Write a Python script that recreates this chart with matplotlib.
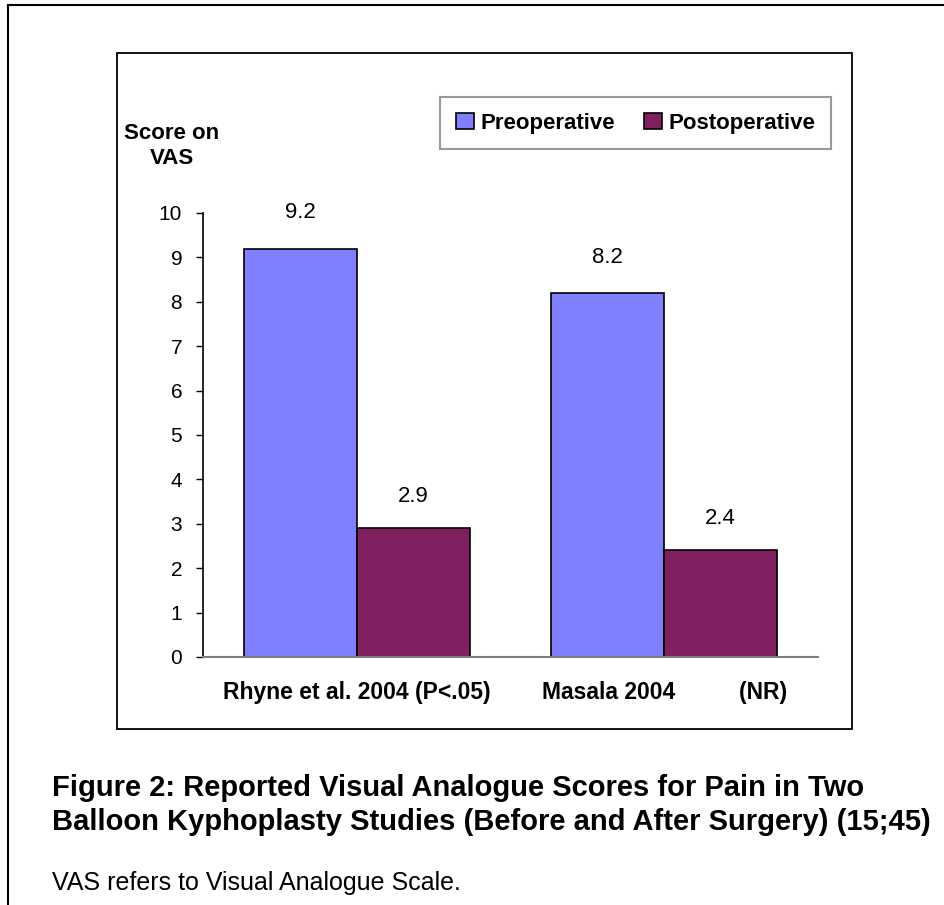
import matplotlib
matplotlib.use('Agg')
import matplotlib.pyplot as plt
from matplotlib.lines import Line2D
from matplotlib.patches import Rectangle

plt.rcParams['font.family'] = ['Liberation Sans', 'DejaVu Sans']

# data
studies = ['Rhyne et al. 2004 (P<.05)', 'Masala 2004          (NR)']
series = ['Preoperative', 'Postoperative']
pre_scores = [9.2, 8.2]
post_scores = [2.9, 2.4]
colors = ['#8080FF', '#802060']

W, H = 945, 905
fig = plt.figure(figsize=(W / 100, H / 100), dpi=100)


def fx(px):
    return px / W


def fy(py):
    return 1 - py / H


# outer frame (left + top only visible)
fig.add_artist(Line2D([fx(8), fx(8)], [fy(5), 0], transform=fig.transFigure, color='black', lw=1.5))
fig.add_artist(Line2D([fx(8), 1], [fy(5), fy(5)], transform=fig.transFigure, color='black', lw=1.5))

# chart box
fig.add_artist(Rectangle((fx(117), fy(729)), fx(852) - fx(117), fy(53) - fy(729),
                         transform=fig.transFigure, fill=False, edgecolor='black', lw=1.3))

ax = fig.add_axes([fx(203), fy(657), fx(818) - fx(203), fy(213) - fy(657)])
x = [0, 1]
w = 0.3675
ax.bar([i - w / 2 for i in x], pre_scores, w, color=colors[0], edgecolor='black', lw=1.2, label=series[0])
ax.bar([i + w / 2 for i in x], post_scores, w, color=colors[1], edgecolor='black', lw=1.2, label=series[1])

for i in x:
    ax.text(i - w / 2, pre_scores[i] + 0.8, str(pre_scores[i]), ha='center', va='center', fontsize=16)
    ax.text(i + w / 2, post_scores[i] + 0.72, str(post_scores[i]), ha='center', va='center', fontsize=16)

ax.set_xlim(-0.5, 1.5)
ax.set_ylim(0, 10)
ax.set_yticks(range(0, 11))
ax.tick_params(axis='y', length=5, width=1, pad=10, labelsize=15)
ax.set_xticks(x)
ax.set_xticklabels(studies, fontweight='bold', fontsize=16.5)
ax.tick_params(axis='x', length=0, pad=17)
ax.spines['top'].set_visible(False)
ax.spines['right'].set_visible(False)
ax.spines['left'].set_linewidth(1.2)
ax.spines['bottom'].set_color('#808080')
ax.spines['bottom'].set_linewidth(1.5)
ax.patch.set_visible(False)

fig.text(fx(172), fy(146), 'Score on\nVAS', ha='center', va='center', fontsize=16,
         fontweight='bold', linespacing=1.3)

leg = ax.legend(loc='center', bbox_to_anchor=(fx((439 + 832) / 2), fy((95 + 151) / 2)),
                bbox_transform=fig.transFigure, ncol=2, frameon=True, fancybox=False,
                prop={'weight': 'bold', 'size': 16}, handlelength=0.8, handleheight=0.75,
                handletextpad=0.3, columnspacing=1.3, borderpad=0.7, borderaxespad=0)
leg.get_frame().set_edgecolor('#808080')
leg.get_frame().set_linewidth(1.5)

fig.text(fx(52), fy(788), 'Figure 2: Reported Visual Analogue Scores for Pain in Two',
         ha='left', va='center', fontsize=21, fontweight='bold')
fig.text(fx(52), fy(822), 'Balloon Kyphoplasty Studies (Before and After Surgery) (15;45)',
         ha='left', va='center', fontsize=21, fontweight='bold')
fig.text(fx(52), fy(883), 'VAS refers to Visual Analogue Scale.', ha='left', va='center', fontsize=18)

fig.savefig('out.png', dpi=100)
